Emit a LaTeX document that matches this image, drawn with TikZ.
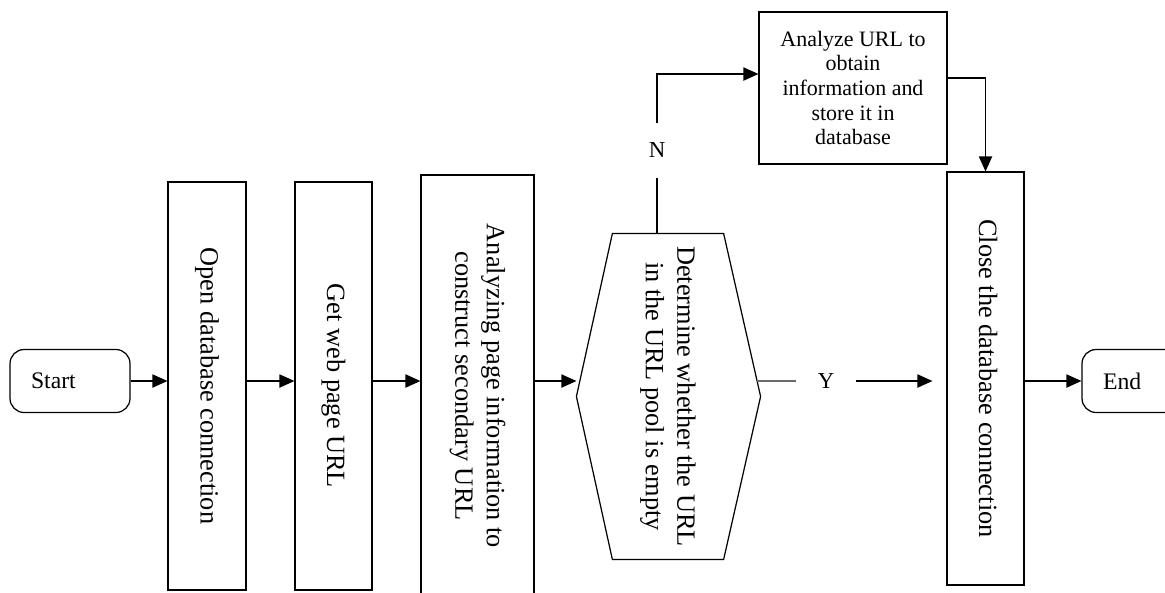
\documentclass[tikz,border=0pt]{standalone}
\usepackage{fontspec}
\setmainfont{Liberation Serif}
\usepackage{graphicx}
\usetikzlibrary{arrows.meta,calc}
\definecolor{ygray}{HTML}{6a6a6a}

\newcommand{\vtext}[1]{\rotatebox{-90}{\begin{tabular}{@{}c@{}}#1\end{tabular}}}

\begin{document}
\begin{tikzpicture}[x=0.02cm, y=-0.02cm, line width=0.7pt, line join=miter,
  proc/.style={draw, inner sep=0pt, font=\fontsize{15}{18}\selectfont},
  term/.style={draw, rounded corners=8pt, inner xsep=0.42cm, text width=1.56cm,
    align=left, minimum height=1.26cm, font=\fontsize{13.5}{16}\selectfont},
  arr/.style={-{Triangle[length=8.5pt,width=7.5pt]}},
  lab/.style={inner sep=0pt, font=\fontsize{13}{15}\selectfont}]
  \useasboundingbox (0,0) rectangle (1165,592);
  \clip (0,0) rectangle (1165,592);

  % ---------- main row ----------
  \node[term] (start) at (70,381) {Start};
  \node[proc, minimum width=1.56cm, minimum height=8.16cm] (open) at (207,386)
    {\vtext{Open database connection}};
  \node[proc, minimum width=1.54cm, minimum height=8.16cm] (geturl) at (333.5,386)
    {\vtext{Get web page URL}};
  \node[proc, minimum width=2.26cm, minimum height=8.44cm] (parse) at (477.5,386)
    {\vtext{Analyzing page information to\\construct secondary URL}};

  % ---------- decision (hexagon) ----------
  \node[proc, draw=none, minimum width=2.2cm, minimum height=6.5cm] (hex) at (668,396.5)
    {\vtext{Determine whether the URL\\in the URL pool is empty}};
  \coordinate (hexL) at ([xshift=-0.72cm]hex.west);
  \coordinate (hexR) at ([xshift=0.74cm]hex.east);
  \draw (hex.north west) -- (hex.north east) -- (hexR) -- (hex.south east)
    -- (hex.south west) -- (hexL) -- cycle;

  \node[proc, minimum width=1.54cm, minimum height=8.26cm] (close) at (985.5,378.5)
    {\vtext{Close the database connection}};
  \node[term] (end) at (1142,381) {End};

  % ---------- upper branch ----------
  \node[draw, inner sep=0pt, minimum width=3.76cm, minimum height=3.04cm, align=center,
    font=\fontsize{12.5}{14}\selectfont] (ana) at (853,88)
    {Analyze URL to\\obtain\\information and\\store it in\\database};
  \node[lab, minimum height=1.06cm] (nlab) at (657,150.5) {N};
  \node[lab, minimum width=1.16cm] (ylab) at (826,381) {Y};
  \coordinate (anain) at ([yshift=0.28cm]ana.west);
  \coordinate (anaout) at ([yshift=0.2cm]ana.east);

  % ---------- connectors ----------
  \draw[arr] (start.east) -- (start.east -| open.west);
  \draw[arr] (open.east |- start.east) -- (geturl.west |- start.east);
  \draw[arr] (geturl.east |- start.east) -- (parse.west |- start.east);
  \draw[arr] (parse.east |- start.east) -- (hexL |- start.east);
  \draw[ygray, line width=0.9pt] ($(hexR |- ylab.west)+(-0.07cm,0)$) -- (ylab.west);
  \draw[arr, shorten >=0.28cm] (ylab.east) -- (ylab.east -| close.west);
  \draw[arr] (close.east |- start.east) -- (end.west |- start.east);
  \draw (nlab |- hex.north) -- (nlab.south);
  \draw[arr] (nlab.north) -- (nlab |- anain) -- (anain);
  \draw[arr] (anaout) -| (close.north);
\end{tikzpicture}
\end{document}
